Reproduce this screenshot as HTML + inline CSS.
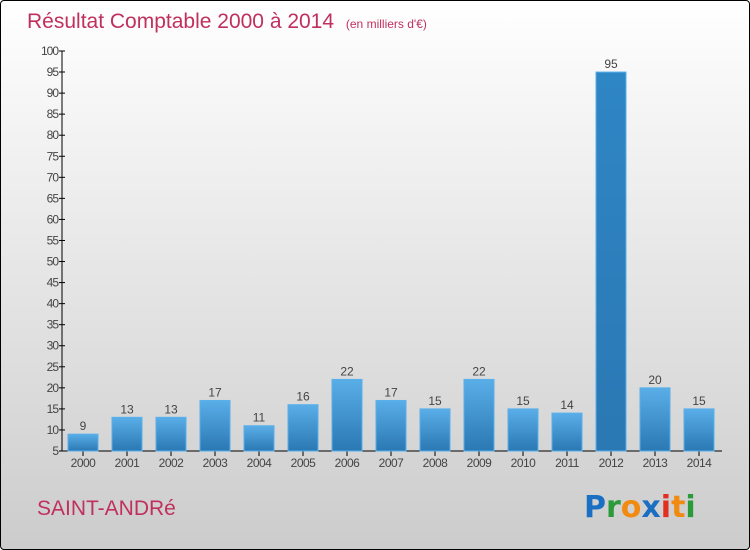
<!DOCTYPE html>
<html><head><meta charset="utf-8"><style>
body{margin:0}
#c{width:750px;height:550px;position:relative;box-sizing:border-box;border:1px solid #000;border-radius:4px;background:linear-gradient(#fff,#ccc);font-family:"Liberation Sans",sans-serif;overflow:hidden}
</style></head><body>
<div id="c">
<svg width="750" height="550" id="svg">
<defs><linearGradient id="g" x1="0" y1="0" x2="0" y2="1"><stop offset="0" stop-color="#5aaee8"/><stop offset="1" stop-color="#2a78b4"/></linearGradient>
<linearGradient id="g2" x1="0" y1="0" x2="0" y2="1"><stop offset="0" stop-color="#2f86c4"/><stop offset="1" stop-color="#2a78b4"/></linearGradient></defs>
<text x="26" y="27" font-size="21" fill="#c0305e">Résultat Comptable 2000 à 2014 <tspan font-size="12" dx="6">(en milliers d'€)</tspan></text>
<text x="36" y="514" font-size="21" fill="#c0305e">SAINT-ANDRé</text>
<g font-size="30" font-weight="bold" font-family="'DejaVu Sans',sans-serif">
<text x="583" y="516" fill="#1a6fc2">P<tspan fill="#2a9a3a">r</tspan><tspan fill="#f08a10">o</tspan><tspan fill="#1a6fc2">x</tspan><tspan fill="#e03020">i</tspan><tspan fill="#f08a10">t</tspan><tspan fill="#2a9a3a">i</tspan></text></g>
<g id="axes"></g><g id="bars"></g>
</svg></div>
<script>
const years=["2000","2001","2002","2003","2004","2005","2006","2007","2008","2009","2010","2011","2012","2013","2014"];
const values=[9,13,13,17,11,16,22,17,15,22,15,14,95,20,15];
const yTicks=[5,10,15,20,25,30,35,40,45,50,55,60,65,70,75,80,85,90,95,100];
const NS="http://www.w3.org/2000/svg";
const y=v=>450-(v-5)*400/95;
const x=i=>82+i*44;
function mk(t,a,p){const e=document.createElementNS(NS,t);for(const k in a)e.setAttribute(k,a[k]);p.appendChild(e);return e;}
const ax=document.getElementById('axes'),bs=document.getElementById('bars');
let l=mk('line',{x1:61,y1:50,x2:61,y2:450,stroke:'#000'},ax);


l=mk('line',{x1:61,y1:450,x2:721,y2:450,stroke:'#000'},ax);


yTicks.forEach(v=>{
 const t=mk('line',{x1:58,y1:y(v),x2:64,y2:y(v),stroke:'#000'},ax);
 
 
 const tx=mk('text',{x:57,y:y(v)+4,'font-size':12,'text-anchor':'end',fill:'#444','letter-spacing':'-1'},ax);
 tx.textContent=v;
 
 
});
values.forEach((v,i)=>{
 const r=mk('rect',{x:x(i)-15,y:y(v),width:30,height:450-y(v),fill:i==12?'url(#g2)':'url(#g)',stroke:'#5ab0ea','stroke-width':1},bs);
 
 
 const t=mk('text',{x:x(i),y:y(v)-4,'font-size':12,'text-anchor':'middle',fill:'#444'},bs);
 t.textContent=v;
 
 
 const tk=mk('line',{x1:x(i),y1:450,x2:x(i),y2:455,stroke:'#000'},ax);
 
 
 const xl=mk('text',{x:x(i),y:466,'font-size':12,'text-anchor':'middle',fill:'#444','letter-spacing':'-0.5'},ax);
 xl.textContent=years[i];
 
 
});
</script>
</body></html>
